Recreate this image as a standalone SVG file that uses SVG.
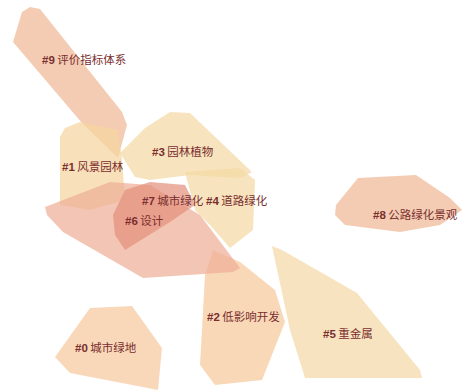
<svg xmlns="http://www.w3.org/2000/svg" width="467" height="391" viewBox="0 0 467 391">
<style>
.p{stroke:none;fill-opacity:0.72}
.t{font-family:"Noto Sans CJK SC","Liberation Sans",sans-serif;font-size:11.5px;fill:#7a2e2e}
.n{font-family:"Liberation Sans",sans-serif;font-weight:bold}
</style>
<rect width="467" height="391" fill="#ffffff"/>
<g id="cluster0"><polygon class="p" fill="#f6c9a0" points="90,308 132,306 162,348 158,390 70,373 55,357"/></g>
<g id="cluster5"><polygon class="p" fill="#f4d8a8" points="272,246 282,250 357,293 420,370 422,378 305,378 290,330"/></g>
<g id="cluster8"><polygon class="p" fill="#efb895" points="336,205 358,178 416,175 450,198 462,210 440,225 400,232 345,225 335,215"/></g>
<g id="cluster9"><polygon class="p" fill="#efb895" points="13,42 22,12 30,7 40,9 122,112 127,125 118,158 82,123"/></g>
<g id="cluster1"><polygon class="p" fill="#f5d6a0" points="60,137 65,128 80,122 118,130 122,160 125,200 90,210 60,205"/></g>
<g id="cluster3"><polygon class="p" fill="#f4daa6" points="120,153 145,128 170,112 190,113 252,172 240,178 190,175 150,180 135,177"/></g>
<g id="cluster4"><polygon class="p" fill="#f4d8a3" points="185,172 240,168 255,180 253,230 230,248 210,225 195,210"/></g>
<g id="cluster2"><polygon class="p" fill="#f6c99c" points="213,250 240,262 275,290 285,322 262,380 215,385 200,365 205,275"/></g>
<g id="cluster6"><polygon class="p" fill="#eeae97" points="45,207 110,182 150,185 200,215 240,268 233,272 143,278 63,232 47,215"/></g>
<g id="cluster7"><polygon class="p" fill="#e3927e" fill-opacity="0.55" points="113,215 125,190 150,182 185,185 195,205 170,222 125,250 115,235"/></g>
<g id="labels">
<text class="t" x="42" y="64"><tspan class="n">#9</tspan> 评价指标体系</text>
<text class="t" x="62" y="171"><tspan class="n">#1</tspan> 风景园林</text>
<text class="t" x="152" y="156"><tspan class="n">#3</tspan> 园林植物</text>
<text class="t" x="142" y="205"><tspan class="n">#7</tspan> 城市绿化</text>
<text class="t" x="206" y="205"><tspan class="n">#4</tspan> 道路绿化</text>
<text class="t" x="125" y="225"><tspan class="n">#6</tspan> 设计</text>
<text class="t" x="373" y="219"><tspan class="n">#8</tspan> 公路绿化景观</text>
<text class="t" x="207" y="321"><tspan class="n">#2</tspan> 低影响开发</text>
<text class="t" x="323" y="338"><tspan class="n">#5</tspan> 重金属</text>
<text class="t" x="75" y="352"><tspan class="n">#0</tspan> 城市绿地</text>
</g>
</svg>
